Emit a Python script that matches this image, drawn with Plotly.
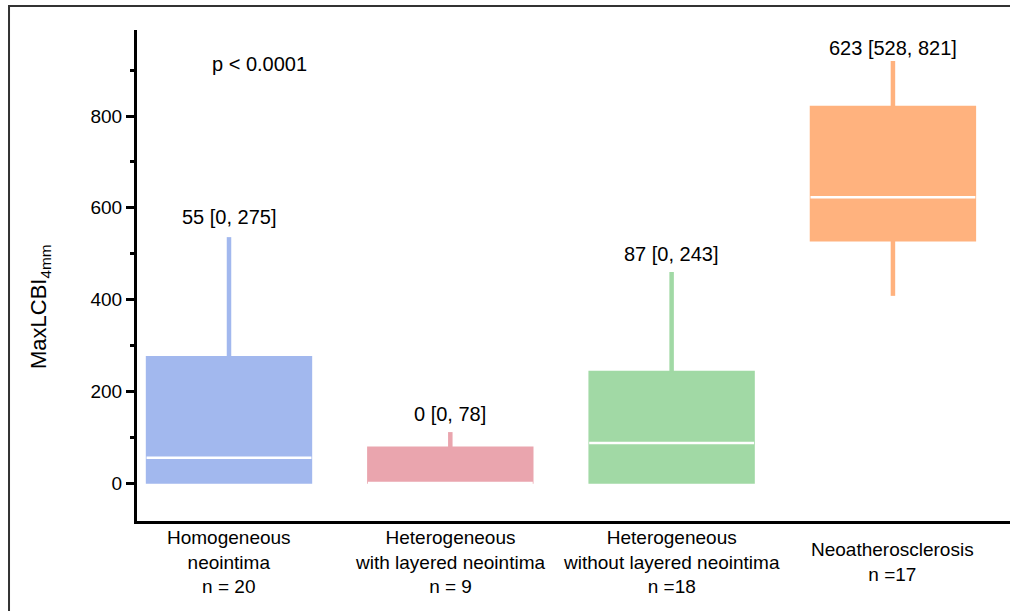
import plotly.graph_objects as go

# Group labels (drawn under the x axis) and summary statistics per group
groups = [
    "Homogeneous<br>neointima<br>n = 20",
    "Heterogeneous<br>with layered neointima<br>n = 9",
    "Heterogeneous<br>without layered neointima<br>n =18",
    "Neoatherosclerosis<br>n =17",
]
medians = [55, 0, 87, 623]
q1_vals = [0, 0, 0, 528]
q3_vals = [275, 78, 243, 821]
lower_whisker = [0, 0, 0, 408]
upper_whisker = [536, 111, 460, 920]
colors = ["#A2B8EE", "#EAA5AE", "#A1D9A5", "#FFB27E"]

y_ticks = [0, 200, 400, 600, 800]
p_text = "p < 0.0001"

FONT = "Arial, 'Liberation Sans', Helvetica, sans-serif"
BOX_W = 0.745

fig = go.Figure()

xs = list(range(len(groups)))

# whiskers
for i in xs:
    wx, wy = [], []
    if upper_whisker[i] > q3_vals[i]:
        wx += [i, i, None]
        wy += [q3_vals[i], upper_whisker[i], None]
    if lower_whisker[i] < q1_vals[i]:
        wx += [i, i, None]
        wy += [lower_whisker[i], q1_vals[i], None]
    fig.add_trace(go.Scatter(x=wx, y=wy, mode="lines",
                             line=dict(color=colors[i], width=4.5),
                             hoverinfo="skip", showlegend=False))

# boxes (interquartile range)
fig.add_trace(go.Bar(
    x=xs,
    base=q1_vals,
    y=[q3 - q1 for q1, q3 in zip(q1_vals, q3_vals)],
    width=BOX_W,
    marker=dict(color=colors, line=dict(color=colors, width=1.5)),
    showlegend=False,
))

# median lines
mx, my = [], []
for i in xs:
    mx += [i - BOX_W / 2, i + BOX_W / 2, None]
    my += [medians[i], medians[i], None]
fig.add_trace(go.Scatter(x=mx, y=my, mode="lines",
                         line=dict(color="white", width=2.5),
                         hoverinfo="skip", showlegend=False))

annotations = []
# median [IQR] labels above each whisker
label_shift = [7, 5, 5, 0]
for i in xs:
    annotations.append(dict(
        x=i, y=upper_whisker[i], xref="x", yref="y",
        text=f"{medians[i]} [{q1_vals[i]}, {q3_vals[i]}]",
        showarrow=False, xanchor="center", yanchor="bottom",
        yshift=label_shift[i], font=dict(size=20, color="black", family=FONT),
    ))

# group names under the axis
for i in xs:
    annotations.append(dict(
        x=i, y=-0.0835, xref="x", yref="paper",
        text=groups[i], showarrow=False, xanchor="center", yanchor="middle",
        align="center", font=dict(size=19, color="black", family=FONT),
    ))

# overall test result
annotations.append(dict(
    x=0.138, y=913, xref="x", yref="y", text=p_text, showarrow=False,
    xanchor="center", yanchor="middle",
    font=dict(size=20, color="black", family=FONT),
))

# y axis title
annotations.append(dict(
    x=-0.111, y=0.436, xref="paper", yref="paper",
    text="MaxLCBI<sub>4mm</sub>", textangle=-90, showarrow=False,
    xanchor="center", yanchor="middle",
    font=dict(size=22, color="black", family=FONT),
))

fig.update_layout(
    width=1010, height=611,
    margin=dict(l=137, r=0, t=30, b=90),
    plot_bgcolor="white", paper_bgcolor="white",
    barmode="overlay",
    showlegend=False,
    annotations=annotations,
    font=dict(family=FONT, color="black"),
    shapes=[dict(
        type="rect", xref="paper", yref="paper",
        x0=-0.1466, x1=1.05, y0=-0.3, y1=1.0489,
        line=dict(color="#333333", width=2), fillcolor="rgba(0,0,0,0)",
        layer="below",
    )],
)

fig.update_xaxes(
    range=[-0.4157, 3.529],
    showgrid=False, zeroline=False,
    showline=True, linecolor="black", linewidth=3,
    showticklabels=False, ticks="",
)

fig.update_yaxes(
    range=[-82.8, 987.5],
    showgrid=False, zeroline=False,
    showline=True, linecolor="black", linewidth=3,
    tickvals=y_ticks, ticks="outside", ticklen=8, tickwidth=2.5,
    tickcolor="black",
    tickfont=dict(size=19, color="black", family=FONT),
    minor=dict(tickvals=[100, 300, 500, 700, 900], ticks="outside",
               ticklen=4, tickwidth=2.5, tickcolor="black"),
)

fig.write_html("out.html")
